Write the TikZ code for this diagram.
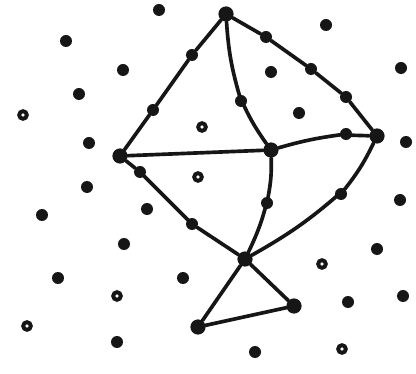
\documentclass[tikz,border=0pt]{standalone}
\usetikzlibrary{positioning}
\definecolor{ink}{HTML}{161616}
\tikzset{
  % ---- graph --------------------------------------------------------
  vtx/.style   = {circle, fill=ink, inner sep=0pt, minimum size=3.8mm},
  pt/.style    = {circle, fill=ink, inner sep=0pt, minimum size=3.0mm},
  ring/.style  = {circle, draw=ink, fill=white, line width=2.8pt,
                  inner sep=0pt, minimum size=1.9mm},
  edge/.style  = {draw=ink, line width=2.6pt, line join=round, line cap=round},
}
\begin{document}
\begin{tikzpicture}[x=0.025cm, y=-0.025cm]
  \useasboundingbox[fill=white] (0,0) rectangle (416,374);
  % ---- corners of the kite ------------------------------------------
  \node[vtx] (top)   at (226,14)  {};
  \node[vtx] (left)  at (120,156) {};
  \node[vtx] (mid)   at (271,150) {};
  \node[vtx] (right) at (377,136) {};
  \node[vtx] (low)   at (245,259) {};
  \node[vtx] (tailR) at (294,306) {};
  \node[vtx] (tailL) at (198,327) {};
  % ---- points lying on the edges ------------------------------------
  \node[pt] (tl1) at (192,55)  {};
  \node[pt] (tl2) at (153,110) {};
  \node[pt] (tr1) at (266,37)  {};
  \node[pt] (tr2) at (311,69)  {};
  \node[pt] (tr3) at (346,97)  {};
  \node[pt] (tm1) at (241,101) {};
  \node[pt] (mr1) at (346,134) {};
  \node[pt] (lb1) at (140,172) {};
  \node[pt] (lb2) at (192,224) {};
  \node[pt] (mb1) at (267,203) {};
  \node[pt] (rb1) at (341,194) {};
  % ---- edges ----------------------------------------------------------
  \draw[edge] (top) -- (tl1) -- (tl2) -- (left);
  \draw[edge] (top) -- (tr1) -- (tr2) -- (tr3) -- (right);
  \draw[edge] (top) to[bend right=6] (tm1) to[bend right=6] (mid);
  \draw[edge] (left) -- (mid);
  \draw[edge] (mid) to[bend left=4] (mr1) -- (right);
  \draw[edge] (left) -- (lb1) -- (lb2) -- (low);
  \draw[edge] (mid) to[bend left=6] (mb1) to[bend left=6] (low);
  \draw[edge] (right) to[bend left=6] (rb1) to[bend left=6] (low);
  \draw[edge] (low) -- (tailR) -- (tailL) -- (low);
  % ---- scattered points -----------------------------------------------
  \foreach \x/\y [count=\i] in {159/10, 66/41, 123/70, 79/94, 89/143,
      87/187, 42/215, 147/209, 124/244, 58/278, 183/278, 117/342,
      326/25, 271/72, 299/113, 401/68, 406/142, 400/200, 377/249,
      348/302, 403/296, 255/352}
    \node[pt] (free\i) at (\x,\y) {};
  \foreach \x/\y [count=\i] in {23/115, 202/127, 198/177, 117/296,
      27/326, 342/349, 322/264}
    \node[ring] (hole\i) at (\x,\y) {};
\end{tikzpicture}
\end{document}
